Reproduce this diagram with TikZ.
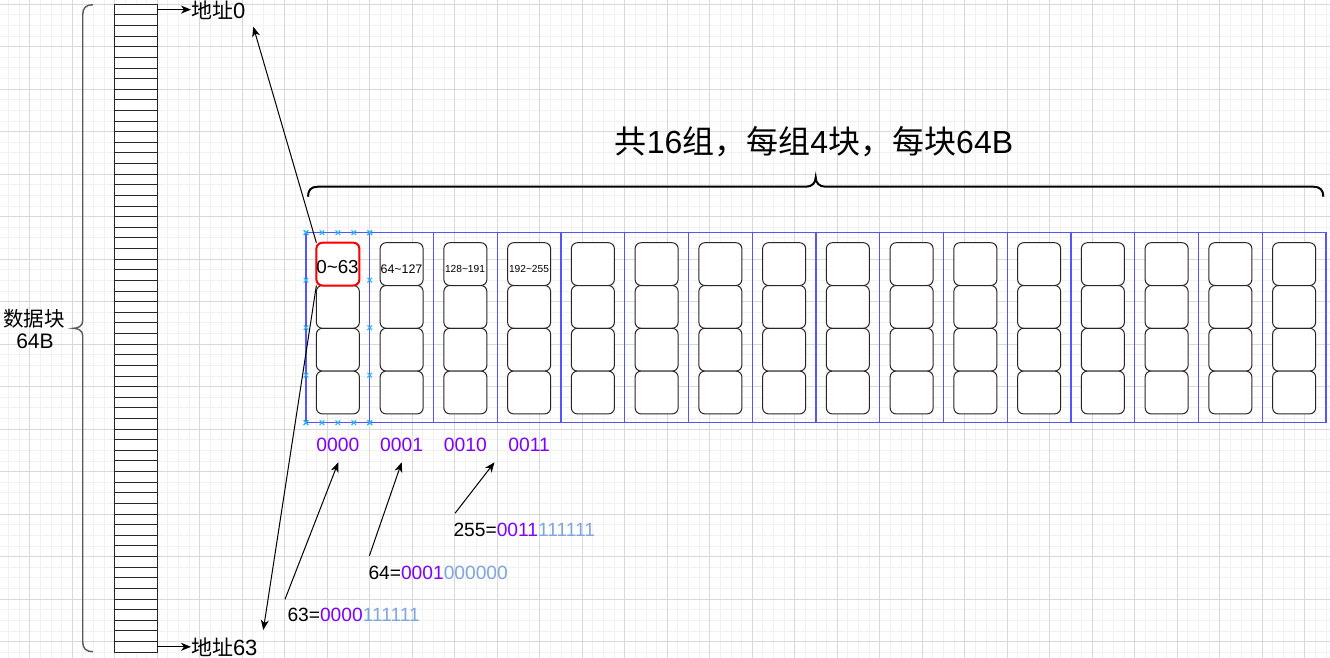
\documentclass[tikz,border=0pt]{standalone}
\usepackage{fontspec}
\setmainfont{Liberation Sans}
\newfontfamily\cjk{Noto Sans CJK SC}
\usetikzlibrary{arrows.meta,calc}
\definecolor{setblue}{RGB}{85,85,255}
\definecolor{binpurple}{RGB}{127,0,255}
\definecolor{binblue}{RGB}{126,166,224}
\definecolor{handle}{RGB}{41,182,242}
\tikzset{
  minorgrid/.style={draw=black!5, line width=1pt},
  majorgrid/.style={draw=black!15, line width=1pt},
  striprow/.style={draw=black!85, fill=white, line width=1pt, minimum width=42.6pt, minimum height=10.62pt, inner sep=0pt, outer sep=0pt},
  setbox/.style={draw=setblue, line width=1.2pt, minimum width=63.75pt, minimum height=190pt, inner sep=0pt, outer sep=0pt},
  blockbox/.style={draw=black!85, fill=white, line width=1pt, rounded corners=6pt, minimum width=43pt, minimum height=42.8pt, inner sep=0pt, outer sep=0pt},
  redline/.style={draw=red, line width=2pt, rounded corners=6pt},
  arr/.style={draw=black, line width=1pt, -{Stealth[length=10pt,width=8pt,inset=3pt]}},
  handlemark/.style={draw=handle, line width=1.1pt},
  leftbrace/.style={draw=black!65, line width=1.4pt},
  topbrace/.style={draw=black, line width=2pt},
  txt/.style={inner sep=0pt, outer sep=0pt, text=black},
}
\begin{document}
\begin{tikzpicture}[x=1pt,y=-1pt]
\useasboundingbox (0,0) rectangle (1330,658);
\fill[white] (0,0) rectangle (1330,658);
% grid
\foreach \k in {0,...,124} \draw[minorgrid] ({8.55+10.625*\k},0) -- ++(0,658);
\foreach \k in {0,...,61} \draw[minorgrid] (0,{4.2+10.625*\k}) -- ++(1330,0);
\foreach \k in {0,...,30} \draw[majorgrid] ({29.8+42.5*\k},0) -- ++(0,658);
\foreach \k in {0,...,15} \draw[majorgrid] (0,{4.2+42.5*\k}) -- ++(1330,0);

% data block strip
\foreach \k in {1,...,61} \node[striprow] (s\k) at (136,{4.3+10.62*(\k-0.5)}) {};

% left brace
\draw[leftbrace] (93,4.7) .. controls (86,4.7) and (82.7,8) .. (82.7,14.7) -- (82.7,321)
  .. controls (82.7,326) and (78,328.3) .. (73.3,328.3)
  .. controls (78,328.3) and (82.7,330.6) .. (82.7,335.6) -- (82.7,641.7)
  .. controls (82.7,648.4) and (86,651.7) .. (93,651.7);
\node[txt] (dk1) at (34.2,319) {\fontsize{20.5}{24}\selectfont\cjk 数据块};
\node[txt] (dk2) at (35,341.7) {\fontsize{21}{24}\selectfont 64B};

% address labels
\node[txt, anchor=west] (addr0) at (191,10) {\fontsize{21}{24}\selectfont{\cjk 地址}\fontsize{22}{24}\selectfont 0};
\node[txt, anchor=west] (addr63) at (191,647.3) {\fontsize{21}{24}\selectfont{\cjk 地址}\fontsize{22}{24}\selectfont 63};
\draw[arr] (s1.east) -- (s1.east -| addr0.west);
\draw[arr] (s61.east) -- (s61.east -| addr63.west);

% sets and blocks
\foreach \i in {0,...,15} {
  \node[setbox] (g\i) at ({306+63.75*\i+31.875},327.7) {};
}
\foreach \i in {0,...,15} {
  \foreach \j in {0,...,3} {
    \node[blockbox] (b\i-\j) at ({306+63.75*\i+31.875},{264.1+42.8*\j}) {};
  }
}
\draw[redline] (b0-0.south west) rectangle (b0-0.north east);

% block labels
\node[txt] (l0) at (337.5,266.7) {\fontsize{18.8}{22}\selectfont 0\textasciitilde63};
\node[txt] (l1) at (401.5,269) {\fontsize{12.4}{15}\selectfont 64\textasciitilde127};
\node[txt] (l2) at (465,269.3) {\fontsize{10.2}{12}\selectfont 128\textasciitilde191};
\node[txt] (l3) at (529,269.3) {\fontsize{10.2}{12}\selectfont 192\textasciitilde255};

% selection handles on first set
\foreach \p in {0,...,4} {
  \pgfmathsetmacro{\hx}{306+15.9375*\p}
  \pgfmathsetmacro{\hy}{232.7+47.5*\p}
  \draw[handlemark] (\hx-2.3,230.4) -- (\hx+2.3,235) (\hx-2.3,235) -- (\hx+2.3,230.4);
  \draw[handlemark] (\hx-2.3,420.4) -- (\hx+2.3,425) (\hx-2.3,425) -- (\hx+2.3,420.4);
  \draw[handlemark] (303.7,\hy-2.3) -- (308.3,\hy+2.3) (303.7,\hy+2.3) -- (308.3,\hy-2.3);
  \draw[handlemark] (367.45,\hy-2.3) -- (372.05,\hy+2.3) (367.45,\hy+2.3) -- (372.05,\hy-2.3);
}

% top brace and title
\draw[topbrace] (308,196.7) .. controls (308,190) and (311,186.7) .. (318,186.7) -- (806,186.7)
  .. controls (812,186.7) and (815.7,183) .. (815.7,177.3)
  .. controls (815.7,183) and (819.4,186.7) .. (825.4,186.7) -- (1313.3,186.7)
  .. controls (1320,186.7) and (1323.3,190) .. (1323.3,196.7);
\node[txt] (title) at (814,142) {\fontsize{32}{38}\selectfont{\cjk 共}16{\cjk 组，每组}4{\cjk 块，每块}64B};

% set index labels
\node[txt, text=binpurple] (n0) at (337.9,445) {\fontsize{19.3}{22}\selectfont 0000};
\node[txt, text=binpurple] (n1) at (401.6,445) {\fontsize{19.3}{22}\selectfont 0001};
\node[txt, text=binpurple] (n2) at (465.4,445) {\fontsize{19.3}{22}\selectfont 0010};
\node[txt, text=binpurple] (n3) at (529.1,445) {\fontsize{19.3}{22}\selectfont 0011};

% value labels
\node[txt, anchor=west] (v63) at (287.5,615) {\fontsize{19.2}{22}\selectfont 63=\textcolor{binpurple}{0000}\textcolor{binblue}{111111}};
\node[txt, anchor=west] (v64) at (368.5,573.3) {\fontsize{19.2}{22}\selectfont 64=\textcolor{binpurple}{0001}\textcolor{binblue}{000000}};
\node[txt, anchor=west] (v255) at (453.5,530) {\fontsize{19.2}{22}\selectfont 255=\textcolor{binpurple}{0011}\textcolor{binblue}{111111}};

% arrow end points
\coordinate (t0) at (253.3,26.7);
\coordinate (t63) at (263.3,630);
\coordinate (a63s) at (285,599.3);
\coordinate (a63e) at (338.3,462.3);
\coordinate (a64s) at (369.3,556);
\coordinate (a64e) at (401.7,462.3);
\coordinate (a255s) at (455,513.3);
\coordinate (a255e) at (494.5,462.3);

\draw[arr] (b0-0.north west) -- (t0);
\draw[arr] (b0-0.south west) -- (t63);
\draw[arr] (a63s) -- (a63e);
\draw[arr] (a64s) -- (a64e);
\draw[arr] (a255s) -- (a255e);
\end{tikzpicture}
\end{document}
